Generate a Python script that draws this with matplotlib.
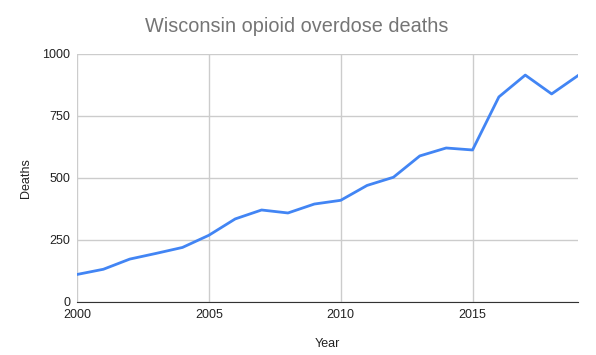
import matplotlib
matplotlib.use('Agg')
import matplotlib.pyplot as plt

years = list(range(2000, 2020))
deaths = [111, 132, 173, 196, 220, 269, 335, 371, 359, 395,
          410, 470, 503, 589, 621, 613, 827, 915, 839, 913]

x_ticks = [2000, 2005, 2010, 2015]
y_ticks = [0, 250, 500, 750, 1000]

plt.rcParams['font.family'] = ['Liberation Sans', 'DejaVu Sans']

fig = plt.figure(figsize=(5.96, 3.55), dpi=100)
ax = fig.add_axes([77 / 596, 1 - 302 / 355, (578 - 77) / 596, (302 - 54) / 355])

ax.plot(years, deaths, color='#4285f4', linewidth=2, solid_joinstyle='round')

ax.set_xlim(2000, 2019)
ax.set_ylim(0, 1000)
ax.set_xticks(x_ticks)
ax.set_yticks(y_ticks)
ax.grid(True, color='#cccccc', linewidth=1)
ax.set_axisbelow(True)
ax.tick_params(length=0, labelsize=9, colors='#222222', pad=5)

for side in ['top', 'right', 'left']:
    ax.spines[side].set_visible(False)
ax.spines['bottom'].set_color('#333333')

ax.set_xlabel('Year', fontsize=9, labelpad=12, color='#222222')
ax.set_ylabel('Deaths', fontsize=9, labelpad=7, color='#222222')

fig.text(297 / 596, 1 - 26 / 355, 'Wisconsin opioid overdose deaths',
         ha='center', va='center', fontsize=14.3, color='#757575')

fig.savefig('out.png', dpi=100)
